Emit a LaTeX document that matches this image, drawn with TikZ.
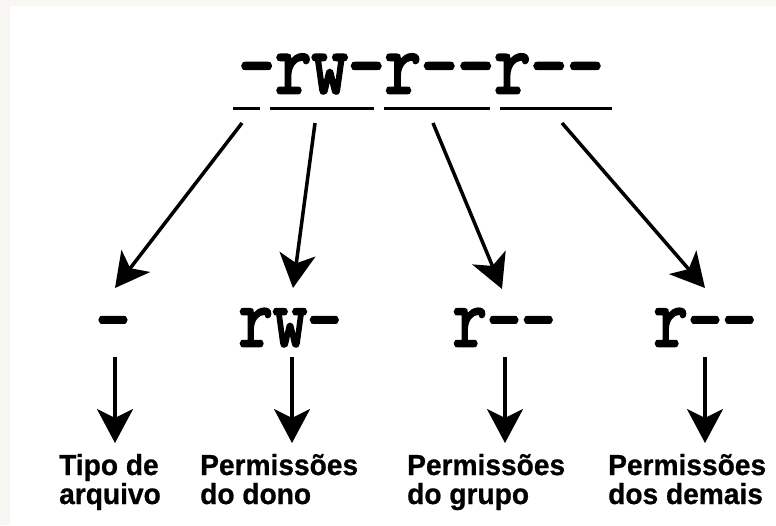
\documentclass[tikz,border=0pt]{standalone}
\usepackage{fontspec}
\usepackage{graphicx}
\usetikzlibrary{arrows.meta,calc}
\newfontfamily\permmono[FakeBold=3,Ligatures=TeXOff]{Latin Modern Mono}
\newfontfamily\labsans[FakeBold=0.8]{Liberation Sans}
\definecolor{pagebg}{HTML}{F8F7F3}
\newcommand{\labtxt}[1]{\scalebox{0.97}[1.0]{#1}}
\tikzset{
  topperm/.style={inner sep=0pt, anchor=base, font=\permmono\fontsize{70.9}{70.9}\selectfont},
  rowperm/.style={inner sep=0pt, anchor=base, font=\permmono\fontsize{66.7}{66.7}\selectfont},
  lab/.style={inner sep=0pt, anchor=base west, text height=19pt, text depth=3pt,
    font=\labsans\bfseries\fontsize{29}{28}\selectfont},
  arr/.style={line width=3.5pt, -{Stealth[length=34pt,width=36pt,inset=9pt]}},
  uline/.style={line width=3pt}
}
\begin{document}
\begin{tikzpicture}[x=1pt,y=-1pt]
\useasboundingbox (0,0) rectangle (776,525);
\fill[pagebg] (0,0) rectangle (776,6);
\fill[pagebg] (0,0) rectangle (10,525);

% top permission string
\node[topperm] (perm) at (421,93) {\scalebox{1}[1.25]{-rw-r--r--}};
\draw[uline] (233,108) -- (260,108);
\draw[uline] (270,108) -- (374,108);
\draw[uline] (384,108) -- (490,108);
\draw[uline] (500,108) -- (612,108);

% second row
\node[rowperm] (d1) at (113,346) {\scalebox{1}[1.28]{-}};
\node[rowperm] (d2) at (290,346) {\scalebox{1}[1.28]{rw-}};
\node[rowperm] (d3) at (504,346) {\scalebox{1}[1.28]{r--}};
\node[rowperm] (d4) at (705,346) {\scalebox{1}[1.28]{r--}};

% labels
\node[lab] (l1a) at (59,475) {\labtxt{Tipo de}};
\node[lab] (l1b) at (59,504) {\labtxt{arquivo}};
\node[lab] (l2a) at (200,475) {\labtxt{Permissões}};
\node[lab] (l2b) at (200,504) {\labtxt{do dono}};
\node[lab] (l3a) at (407,475) {\labtxt{Permissões}};
\node[lab] (l3b) at (407,504) {\labtxt{do grupo}};
\node[lab] (l4a) at (608,475) {\labtxt{Permissões}};
\node[lab] (l4b) at (608,504) {\labtxt{dos demais}};

% diagonal arrows
\coordinate (s1) at (242,123);
\coordinate (s2) at (315,123);
\coordinate (s3) at (433,123);
\coordinate (s4) at (562,123);
\draw[arr] (s1) -- ($(d1.base)+(2,-58)$);
\draw[arr] (s2) -- ($(d2.base)+(3,-58)$);
\draw[arr] (s3) -- ($(d3.base)+(-2,-57)$);
\draw[arr] (s4) -- ($(d4.base)+(0,-58)$);

% vertical arrows
\draw[arr] ($(d1.base)+(2,11)$) -- ($(d1.base |- l1a.base)+(2,-32)$);
\draw[arr] ($(d2.base)+(2,11)$) -- ($(d2.base |- l2a.base)+(2,-32)$);
\draw[arr] ($(d3.base)+(1,11)$) -- ($(d3.base |- l3a.base)+(1,-32)$);
\draw[arr] ($(d4.base)+(0,11)$) -- ($(d4.base |- l4a.base)+(0,-32)$);
\end{tikzpicture}
\end{document}
